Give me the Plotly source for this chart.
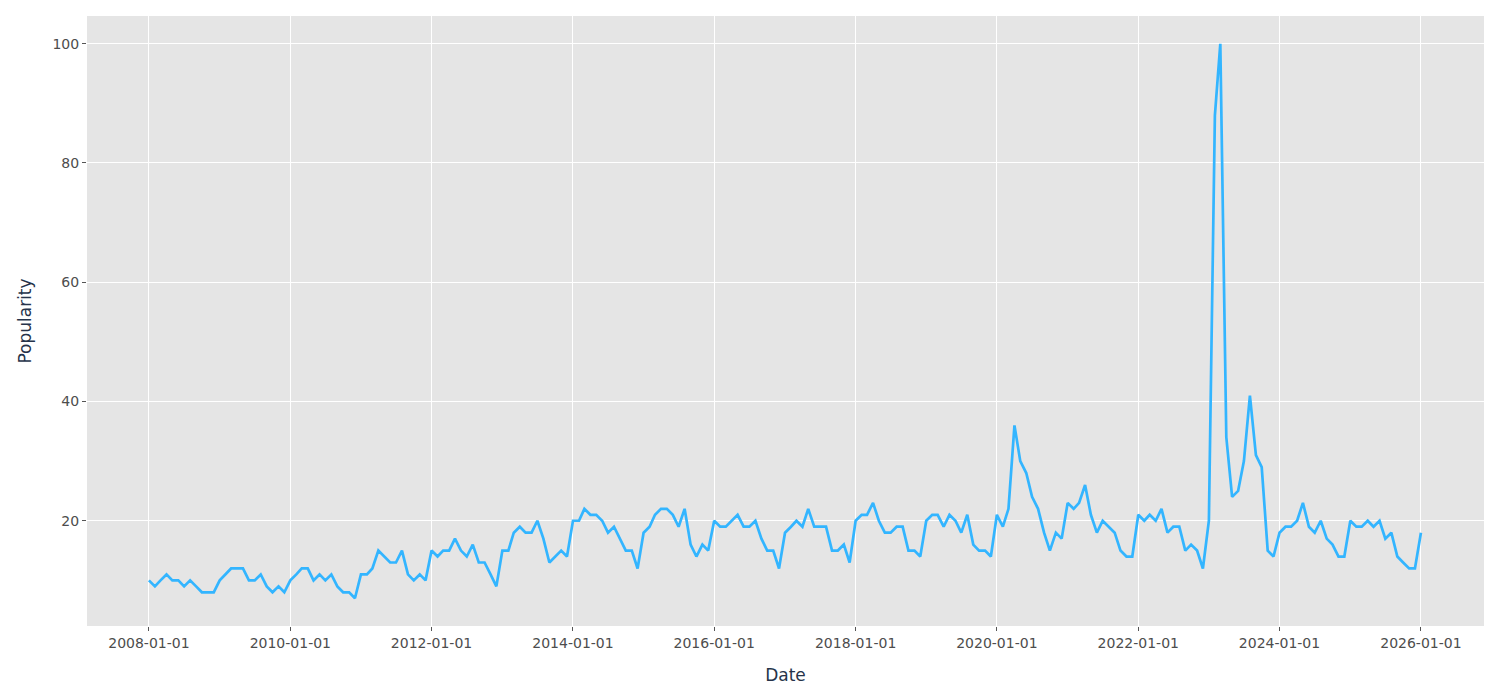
import pandas as pd
import plotly.graph_objects as go

dates = pd.date_range("2008-01-01", "2026-01-01", freq="MS")

popularity = [
    # 2008
    10, 9, 10, 11, 10, 10, 9, 10, 9, 8, 8, 8,
    # 2009
    10, 11, 12, 12, 12, 10, 10, 11, 9, 8, 9, 8,
    # 2010
    10, 11, 12, 12, 10, 11, 10, 11, 9, 8, 8, 7,
    # 2011
    11, 11, 12, 15, 14, 13, 13, 15, 11, 10, 11, 10,
    # 2012
    15, 14, 15, 15, 17, 15, 14, 16, 13, 13, 11, 9,
    # 2013
    15, 15, 18, 19, 18, 18, 20, 17, 13, 14, 15, 14,
    # 2014
    20, 20, 22, 21, 21, 20, 18, 19, 17, 15, 15, 12,
    # 2015
    18, 19, 21, 22, 22, 21, 19, 22, 16, 14, 16, 15,
    # 2016
    20, 19, 19, 20, 21, 19, 19, 20, 17, 15, 15, 12,
    # 2017
    18, 19, 20, 19, 22, 19, 19, 19, 15, 15, 16, 13,
    # 2018
    20, 21, 21, 23, 20, 18, 18, 19, 19, 15, 15, 14,
    # 2019
    20, 21, 21, 19, 21, 20, 18, 21, 16, 15, 15, 14,
    # 2020
    21, 19, 22, 36, 30, 28, 24, 22, 18, 15, 18, 17,
    # 2021
    23, 22, 23, 26, 21, 18, 20, 19, 18, 15, 14, 14,
    # 2022
    21, 20, 21, 20, 22, 18, 19, 19, 15, 16, 15, 12,
    # 2023
    20, 88, 100, 34, 24, 25, 30, 41, 31, 29, 15, 14,
    # 2024
    18, 19, 19, 20, 23, 19, 18, 20, 17, 16, 14, 14,
    # 2025
    20, 19, 19, 20, 19, 20, 17, 18, 14, 13, 12, 12,
    # 2026
    18,
]

fig = go.Figure(
    go.Scatter(
        x=dates,
        y=popularity,
        mode="lines",
        line=dict(color="#33b5ff", width=2.7),
        hoverinfo="x+y",
    )
)

start = pd.Timestamp("2008-01-01") - pd.Timedelta(days=320)
end = pd.Timestamp("2026-01-01") + pd.Timedelta(days=326)

axis_common = dict(
    showgrid=True,
    gridcolor="white",
    gridwidth=1.2,
    zeroline=False,
    showline=False,
    ticks="outside",
    ticklen=4,
    tickwidth=1,
    tickcolor="#555555",
    tickfont=dict(family="DejaVu Sans", size=14, color="#4d4d4d"),
)

fig.update_layout(
    width=1484,
    height=684,
    paper_bgcolor="white",
    plot_bgcolor="#e5e5e5",
    margin=dict(l=79, r=8, t=8, b=66),
    showlegend=False,
    font=dict(family="DejaVu Sans"),
    xaxis=dict(
        range=[start, end],
        tick0="2008-01-01",
        dtick="M24",
        tickformat="%Y-%m-%d",
        title=dict(text="Date", font=dict(family="DejaVu Sans", size=17, color="#26334a"), standoff=19),
        **axis_common,
    ),
    yaxis=dict(
        range=[2.35, 104.65],
        tick0=0,
        dtick=20,
        title=dict(text="Popularity", font=dict(family="DejaVu Sans", size=17, color="#26334a"), standoff=16),
        **axis_common,
    ),
)

fig.write_html("out.html")
